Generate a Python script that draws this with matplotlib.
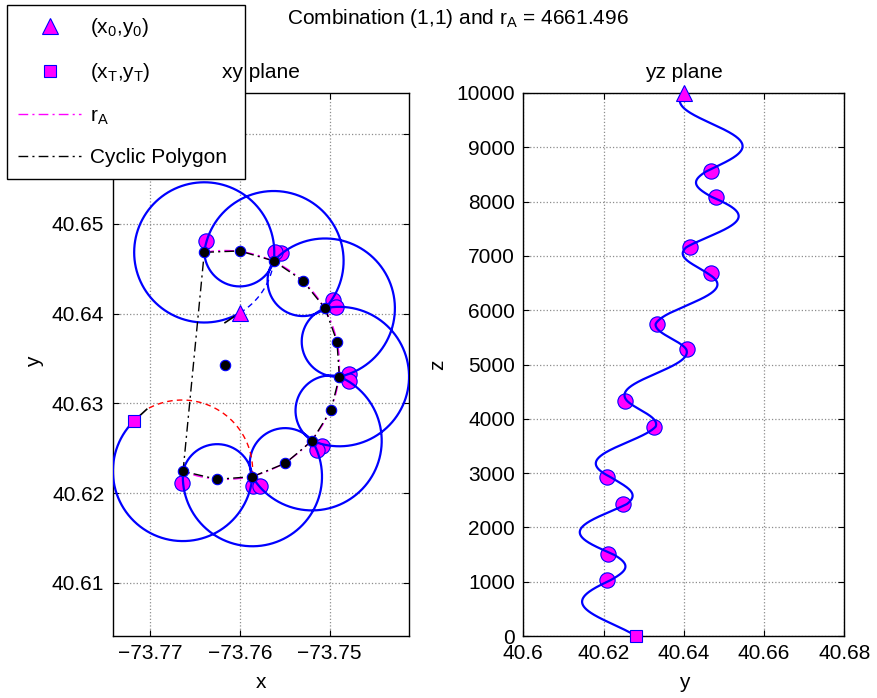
import numpy as np
import matplotlib.pyplot as plt
from matplotlib.lines import Line2D

plt.rcParams['font.family'] = ['Liberation Sans', 'DejaVu Sans']
plt.rcParams['mathtext.fontset'] = 'custom'
plt.rcParams['mathtext.rm'] = 'Liberation Sans'
plt.rcParams['mathtext.it'] = 'Liberation Sans'
plt.rcParams['font.size'] = 15

# cyclic polygon vertices v1..v13 (odd = loiter centres, even = mid points)
poly_x = [-73.76398, -73.76003, -73.75624, -73.75301, -73.75052, -73.74919, -73.74893,
          -73.74986, -73.75197, -73.75495, -73.75863, -73.76256, -73.76635]
poly_y = [40.64684, 40.64699, 40.64588, 40.64368, 40.64060, 40.63688, 40.63298,
          40.62926, 40.62584, 40.62332, 40.62183, 40.62154, 40.62243]
circ_x, circ_y = -73.76167, 40.63425     # centre of the cyclic polygon

start_x, start_y, start_z = -73.7600, 40.6401, 10000
end_x, end_y, end_z = -73.77182, 40.62804, 0

# order in which the path passes the odd vertices, and the altitude there
visit = [3, 1, 5, 3, 7, 5, 9, 7, 11, 9, 13, 11]
visit_z = [8569, 8090, 7158, 6680, 5746, 5280, 4333, 3855, 2923, 2431, 1505, 1031]

# waypoints (magenta dots)
dot_x = [-73.75546, -73.76379, -73.74967, -73.75610, -73.74781, -73.74930,
         -73.75089, -73.74781, -73.75860, -73.75138, -73.76643, -73.75780]
dot_y = [40.6468, 40.6481, 40.6415, 40.6469, 40.6333, 40.6408,
         40.6253, 40.6325, 40.6208, 40.6248, 40.6211, 40.6208]
dot_z = [8569, 8090, 7158, 6680, 5746, 5280, 4333, 3855, 2923, 2431, 1505, 1031]

# short heading marks at start and end, end of the red transition arc
start_tick = (-73.76167, 40.63900)
end_tick = (-73.77040, 40.62934)

r_A = 4661.496


def arc(cx, cy, p0, p1, ccw=False, n=200):
    a0 = np.arctan2(p0[1] - cy, p0[0] - cx)
    a1 = np.arctan2(p1[1] - cy, p1[0] - cx)
    r0 = np.hypot(p0[0] - cx, p0[1] - cy)
    r1 = np.hypot(p1[0] - cx, p1[1] - cy)
    if ccw:
        sweep = (a1 - a0) % (2 * np.pi)
    else:
        sweep = -((a0 - a1) % (2 * np.pi))
    t = np.linspace(0, 1, n)
    a = a0 + sweep * t
    r = r0 + (r1 - r0) * t
    return cx + r * np.cos(a), cy + r * np.sin(a), t


V = list(zip(poly_x, poly_y))
pts = [(start_x, start_y)] + [V[k - 1] for k in visit] + [(end_x, end_y)]
knots = [start_z] + visit_z + [end_z]

path_x, path_y, path_z = [], [], []
for k in range(len(pts) - 1):
    xs, ys, t = arc(poly_x[k], poly_y[k], pts[k], pts[k + 1])
    path_x.append(xs)
    path_y.append(ys)
    path_z.append(knots[k] + (knots[k + 1] - knots[k]) * t)
path_x = np.concatenate(path_x)
path_y = np.concatenate(path_y)
path_z = np.concatenate(path_z)

fig = plt.figure(figsize=(8.77, 6.98), dpi=100)
W, H = 877, 698
ax1 = fig.add_axes([112.7 / W, 62 / H, 296.6 / W, 543 / H])
ax2 = fig.add_axes([523.3 / W, 62 / H, 321 / W, 543 / H])

magenta = '#ff00ff'
dd = (0, (7, 3, 1.5, 3))

# xy plane
ax1.plot(dot_x, dot_y, 'o', ms=11, mfc=magenta, mec='b', mew=0.8, zorder=2)
ax1.plot(path_x, path_y, color='b', lw=1.6, zorder=3)
bx, by, _ = arc(poly_x[0], poly_y[0], (start_x, start_y), V[2], ccw=True)
ax1.plot(bx, by, color='b', lw=1, ls=(0, (4, 3)), zorder=3)
rx, ry, _ = arc(poly_x[12], poly_y[12], V[10], end_tick, ccw=True)
ax1.plot(rx, ry, color='r', lw=1, ls=(0, (4, 3)), zorder=3)
mx, my, _ = arc(circ_x, circ_y, V[0], V[12])
ax1.plot(mx, my, color=magenta, lw=1, ls=dd, zorder=3)
ax1.plot(poly_x + [poly_x[0]], poly_y + [poly_y[0]], color='k', lw=1, ls=dd, zorder=3)
ax1.plot([start_x, start_tick[0]], [start_y, start_tick[1]], color='k', lw=1.2, zorder=3)
ax1.plot([end_x, end_tick[0]], [end_y, end_tick[1]], color='k', lw=1.2, zorder=3)
ax1.plot(poly_x + [circ_x], poly_y + [circ_y], 'o', ms=7.5, mfc='k', mec='b', mew=0.8, zorder=4)
ax1.plot(start_x, start_y, '^', ms=12, mfc=magenta, mec='b', mew=0.8, zorder=5)
ax1.plot(end_x, end_y, 's', ms=9, mfc=magenta, mec='b', mew=0.8, zorder=5)
ax1.set_xlim(-73.77419, -73.74113)
ax1.set_ylim(40.60407, 40.66460)
ax1.set_xticks([-73.77, -73.76, -73.75])
ax1.set_xticklabels(['\u221273.77', '\u221273.76', '\u221273.75'])
ax1.set_yticks([40.61, 40.62, 40.63, 40.64, 40.65, 40.66])
ax1.set_yticklabels(['40.61', '40.62', '40.63', '40.64', '40.65', '40.66'])

# yz plane
ax2.plot(dot_y, dot_z, 'o', ms=11, mfc=magenta, mec='b', mew=0.8, zorder=2)
ax2.plot(path_y, path_z, color='b', lw=1.6, zorder=3)
ax2.plot(start_y, start_z, '^', ms=12, mfc=magenta, mec='b', mew=0.8, zorder=5, clip_on=False)
ax2.plot(end_y, end_z, 's', ms=9, mfc=magenta, mec='b', mew=0.8, zorder=5, clip_on=False)
ax2.set_xlim(40.6, 40.68)
ax2.set_ylim(0, 10000)
ax2.set_xticks([40.6, 40.62, 40.64, 40.66, 40.68])
ax2.set_xticklabels(['40.6', '40.62', '40.64', '40.66', '40.68'])
ax2.set_yticks(np.arange(0, 10001, 1000))

for ax in (ax1, ax2):
    ax.grid(True, color='0.55', ls=':', lw=0.9)
    ax.tick_params(direction='in', length=4, width=0.8, top=True, right=True, pad=6,
                   labelsize=15)
    for s in ax.spines.values():
        s.set_linewidth(1.0)

fig.text(458 / W, 1 - 18 / H, 'Combination (1,1) and r$_\\mathregular{A}$ = %.3f' % r_A,
         ha='center', va='center', fontsize=15)
# the subplot title sits on top of the legend box, as in the original
fig.text(261 / W, 1 - 72 / H, 'xy plane', ha='center', va='center', fontsize=15, zorder=10)
fig.text(684 / W, 1 - 72 / H, 'yz plane', ha='center', va='center', fontsize=15)
fig.text(261 / W, 1 - 682 / H, 'x', ha='center', va='center', fontsize=15)
fig.text(35 / W, 1 - 362 / H, 'y', ha='center', va='center', rotation=90, fontsize=15)
fig.text(684 / W, 1 - 682 / H, 'y', ha='center', va='center', fontsize=15)
fig.text(438 / W, 1 - 365 / H, 'z', ha='center', va='center', rotation=90, fontsize=15)

handles = [
    Line2D([], [], ls='none', marker='^', ms=12, mfc=magenta, mec='b', mew=0.8),
    Line2D([], [], ls='none', marker='s', ms=9, mfc=magenta, mec='b', mew=0.8),
    Line2D([], [], color=magenta, lw=1, ls=dd),
    Line2D([], [], color='k', lw=1, ls=dd),
]
labels = ['(x$_\\mathregular{0}$,y$_\\mathregular{0}$)',
          '(x$_\\mathregular{T}$,y$_\\mathregular{T}$)',
          'r$_\\mathregular{A}$', 'Cyclic Polygon ']
leg = fig.legend(handles, labels, loc='upper left', bbox_to_anchor=(7 / W, 1 - 5 / H),
                 frameon=True, fancybox=False, edgecolor='k', framealpha=1,
                 borderpad=0.55, labelspacing=1.05, handlelength=3, handletextpad=0.45,
                 borderaxespad=0, fontsize=15)
leg.get_frame().set_linewidth(1.0)
leg.set_zorder(5)

fig.savefig('out.png', dpi=100)
